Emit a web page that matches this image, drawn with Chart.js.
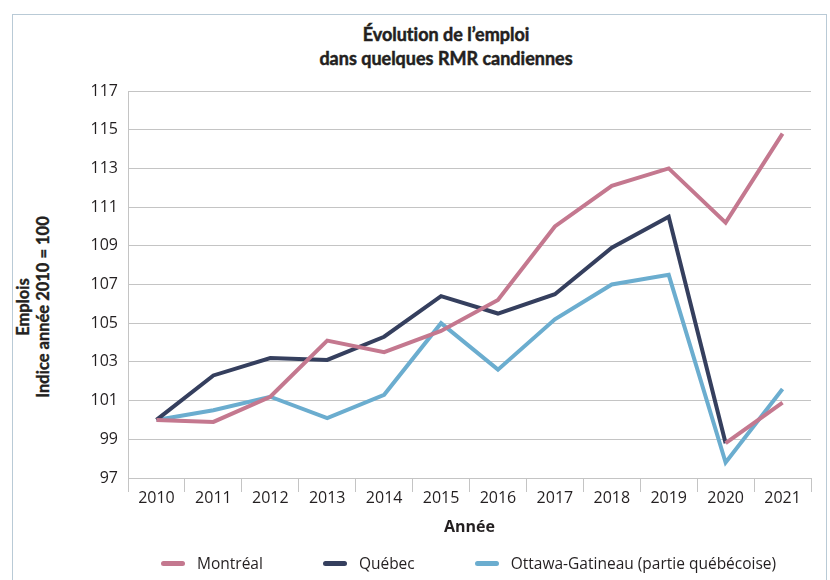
<!DOCTYPE html>
<html lang="fr">
<head>
<meta charset="utf-8">
<script src="https://cdn.jsdelivr.net/npm/chart.js@4.4.0/dist/chart.umd.min.js"></script>
<style>
  html, body { margin: 0; padding: 0; background: #fff; }
  #cadre { position: absolute; left: 12px; top: 14px; width: 815px; height: 600px; border: 1px solid #b9cad6; box-sizing: border-box; }
  #titre { position: absolute; left: 133px; top: 7px; width: 600px; text-align: center;
    font: bold 18px/24px Lato, "Open Sans", sans-serif; font-variant-ligatures: none;
    color: #231f20; -webkit-text-stroke: 0.5px #231f20; }
  #titreY { position: absolute; left: -108px; top: 270px; width: 260px; height: 44px; transform: rotate(-90deg);
    text-align: center; font: bold 16.5px/20px Lato, "Open Sans", sans-serif; font-variant-ligatures: none;
    color: #231f20; white-space: nowrap; -webkit-text-stroke: 0.4px #231f20; }
  #graphique { position: absolute; left: 0; top: 0; }
  #legende { position: absolute; left: 148px; top: 537px; display: flex; gap: 60px; align-items: center;
    font: 15.5px/22px "Open Sans", sans-serif; color: #231f20; }
  #legende .item { display: flex; align-items: center; }
  #legende .trait { width: 24px; height: 5px; border-radius: 3px; margin-right: 12px; }
</style>
</head>
<body>
<div id="cadre">
  <div id="titre">Évolution de l’emploi<br>dans quelques RMR candiennes</div>
  <div id="titreY">Emplois<br>Indice année 2010 = 100</div>
  <canvas id="graphique" width="812" height="565"></canvas>
  <div id="legende"></div>
</div>
<script>
// Données (indice 2010 = 100)
const annees = ["2010", "2011", "2012", "2013", "2014", "2015", "2016", "2017", "2018", "2019", "2020", "2021"];
const montreal = [100.0, 99.9, 101.2, 104.1, 103.5, 104.6, 106.2, 110.0, 112.1, 113.0, 110.2, 114.8];
const quebec = [100.0, 102.3, 103.2, 103.1, 104.3, 106.4, 105.5, 106.5, 108.9, 110.5, 98.8, 100.9];
const ottawaGatineau = [100.0, 100.5, 101.2, 100.1, 101.3, 105.0, 102.6, 105.2, 107.0, 107.5, 97.8, 101.6];
const nomsSeries = ["Montréal", "Québec", "Ottawa-Gatineau (partie québécoise)"];
const couleurs = ["#c4788f", "#353f5e", "#6badcf"];

const police = "'Open Sans', sans-serif";
const grille = "#c4c4c4";

const chart = new Chart(document.getElementById("graphique"), {
  type: "line",
  data: {
    labels: annees,
    datasets: [
      { label: nomsSeries[0], data: montreal, borderColor: couleurs[0] },
      {
        label: nomsSeries[1], data: quebec, borderColor: couleurs[1],
        // dernier segment en rose comme dans l'original
        segment: { borderColor: ctx => ctx.p0DataIndex === 10 ? couleurs[0] : undefined }
      },
      { label: nomsSeries[2], data: ottawaGatineau, borderColor: couleurs[2] }
    ]
  },
  options: {
    responsive: false,
    animation: false,
    layout: { padding: { top: 76, right: 14, bottom: 42, left: 0 } },
    elements: {
      line: { borderWidth: 4, tension: 0, borderJoinStyle: "miter", fill: false },
      point: { radius: 0, hoverRadius: 0 }
    },
    plugins: {
      legend: { display: false },
      title: { display: false },
      tooltip: { enabled: false }
    },
    scales: {
      x: {
        offset: true,
        grid: { offset: true, drawOnChartArea: false, drawTicks: true, tickLength: 14, color: grille },
        border: { display: true, color: grille },
        ticks: { color: "#231f20", font: { family: police, size: 16 }, padding: -3, maxRotation: 0 },
        title: { display: true, text: "Année", color: "#231f20", font: { family: police, size: 16, weight: "bold" }, padding: { top: 4, bottom: 1 } },
        afterFit: scale => { scale.height = 60; }
      },
      y: {
        min: 97,
        max: 117,
        grid: { color: grille, drawTicks: false },
        border: { display: true, color: grille },
        ticks: { stepSize: 2, color: "#231f20", font: { family: police, size: 16 }, padding: 10 },
        title: { display: false },
        afterFit: scale => { scale.width = 115; }
      }
    }
  }
});

// Légende HTML (espacement plus large que celui de Chart.js)
const legende = document.getElementById("legende");
nomsSeries.forEach((nom, i) => {
  const item = document.createElement("div");
  item.className = "item";
  item.innerHTML = `<span class="trait" style="background:${couleurs[i]}"></span><span>${nom}</span>`;
  legende.appendChild(item);
});
</script>
</body>
</html>
